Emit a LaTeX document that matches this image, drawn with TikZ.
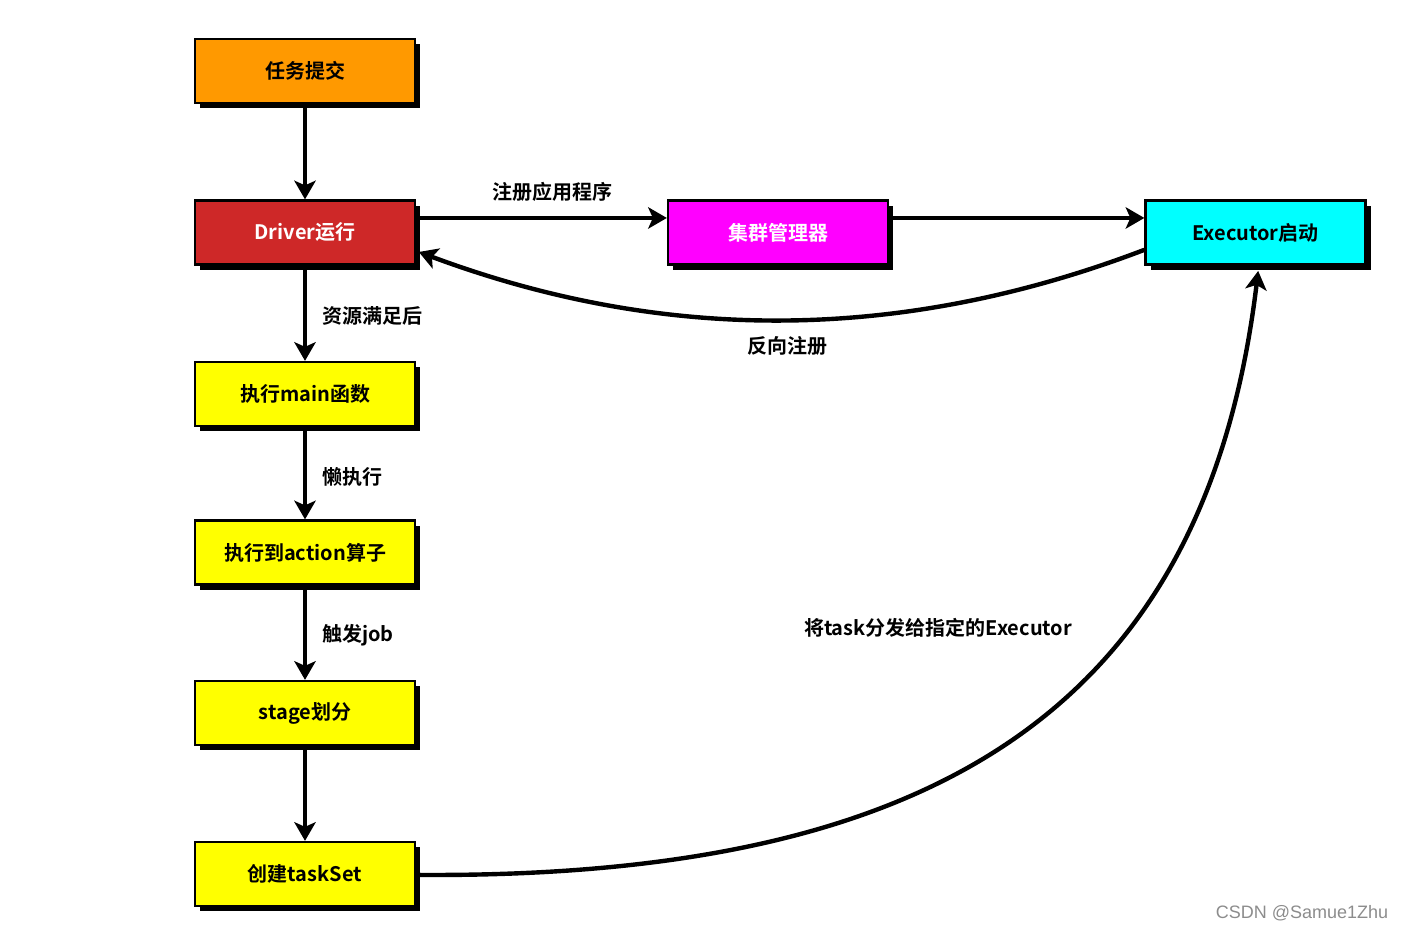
\documentclass[tikz,border=0pt]{standalone}
\usepackage{fontspec}
\setmainfont{Noto Sans CJK SC}[BoldFont=* Bold]
\newfontfamily\wmfont{Liberation Sans}
\usetikzlibrary{arrows.meta,shadows}
\definecolor{cOrange}{RGB}{255,153,0}
\definecolor{cRed}{RGB}{206,40,40}
\definecolor{cMag}{RGB}{255,0,255}
\definecolor{cCyan}{RGB}{0,255,255}
\definecolor{cYel}{RGB}{255,255,0}
\tikzset{
  box/.style={draw=black, line width=1.7pt, minimum width=165pt, minimum height=48pt,
    inner sep=0pt, font=\bfseries\fontsize{15pt}{18pt}\selectfont,
    general shadow={fill=black, shadow xshift=4pt, shadow yshift=-4pt}},
  conn/.style={line width=3.3pt, -{Stealth[length=14pt,width=16pt,inset=3.5pt]}},
  lbl/.style={font=\bfseries\fontsize{15pt}{18pt}\selectfont, inner sep=0pt},
}
\begin{document}
\begin{tikzpicture}[x=0.75pt,y=-0.75pt]
\useasboundingbox (0,0) rectangle (1405,930);
\node[box, fill=cOrange, text=black] (submit) at (305,71) {任务提交};
\node[box, fill=cRed, text=white] (driver) at (305,232.5) {Driver运行};
\node[box, fill=cMag, text=white] (cm) at (778,232.5) {集群管理器};
\node[box, fill=cCyan, text=black] (exec) at (1255.5,232.5) {Executor启动};
\node[box, fill=cYel] (main) at (305,394) {执行main函数};
\node[box, fill=cYel] (action) at (305,552.5) {执行到action算子};
\node[box, fill=cYel] (stage) at (305,713) {stage划分};
\node[box, fill=cYel] (taskset) at (305,874) {创建taskSet};

\draw[conn] (submit.south) -- (driver.north);
\draw[conn] (driver.south) -- (main.north);
\draw[conn] (main.south) -- (action.north);
\draw[conn] (action.south) -- (stage.north);
\draw[conn] (stage.south) -- (taskset.north);
\draw[conn] ([yshift=10.9pt]driver.east) -- ([yshift=10.9pt]cm.west);
\draw[conn] ([yshift=10.9pt]cm.east) -- ([yshift=10.9pt]exec.west);
\draw[conn] ([yshift=-13pt]exec.west) .. controls (900,343) and (663,343) .. ([yshift=-14.6pt,xshift=2pt]driver.east);
\draw[conn] ([xshift=2pt,yshift=-0.7pt]taskset.east) .. controls (918,878) and (1204,722) .. ([xshift=2pt,yshift=-4pt]exec.south);

\node[lbl] (l1) at (552,192) {注册应用程序};
\node[lbl] (l2) at (787,346) {反向注册};
\node[lbl, anchor=west] (l3) at (322,316) {资源满足后};
\node[lbl, anchor=west] (l4) at (322,477) {懒执行};
\node[lbl, anchor=west] (l5) at (322,635) {触发job};
\node[lbl] (l6) at (938,628) {将task分发给指定的Executor};
\node[font=\wmfont\fontsize{13.5pt}{16pt}\selectfont, text=black!45, inner sep=0pt] (wm) at (1302,913) {CSDN @Samue1Zhu};
\end{tikzpicture}
\end{document}
